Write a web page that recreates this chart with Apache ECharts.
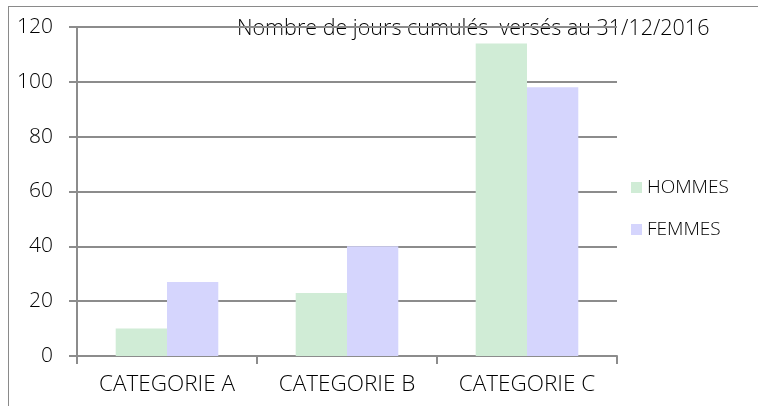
<!DOCTYPE html>
<html>
<head>
<meta charset="utf-8">
<script src="https://cdn.jsdelivr.net/npm/echarts@6/dist/echarts.min.js"></script>
<style>
html,body{margin:0;padding:0;width:758px;height:406px;overflow:hidden;background:#fff;}
#frame{position:absolute;left:8px;top:6px;width:900px;height:600px;border:1px solid #8a8a8a;box-sizing:border-box;}
#chart{position:absolute;left:0;top:0;width:758px;height:406px;}
</style>
</head>
<body>
<div id="frame"></div>
<div id="chart"></div>
<script>
const categories = ['CATEGORIE A', 'CATEGORIE B', 'CATEGORIE C'];
const hommes = [10, 23, 114];
const femmes = [27, 40, 98];
const seriesNames = ['HOMMES', 'FEMMES'];
const titleText = 'Nombre de jours cumulés  versés au 31/12/2016';

const FONT = '"Open Sans", "Noto Sans", sans-serif';
const chart = echarts.init(document.getElementById('chart'), null, {renderer: 'canvas'});
chart.setOption({
  animation: false,
  backgroundColor: 'transparent',
  title: {
    text: titleText,
    left: 237,
    top: 18,
    padding: 0,
    z: -1,
    textStyle: {fontFamily: FONT, fontWeight: 300, fontSize: 21.5, color: '#000'}
  },
  legend: {
    orient: 'vertical',
    left: 626,
    top: 173,
    padding: 5,
    itemWidth: 11,
    itemHeight: 11,
    itemGap: 23,
    icon: 'rect',
    data: seriesNames,
    textStyle: {fontFamily: FONT, fontWeight: 300, fontSize: 19, color: '#000'}
  },
  grid: {left: 77, top: 27, right: 141, bottom: 50, containLabel: false},
  xAxis: {
    type: 'category',
    data: categories,
    axisLine: {show: true, lineStyle: {color: '#8c8c8c', width: 2}},
    axisTick: {show: true, length: 8, lineStyle: {color: '#8c8c8c', width: 2}},
    axisLabel: {interval: 0, hideOverlap: false, margin: 17, fontFamily: FONT, fontWeight: 300, fontSize: 22.5, color: '#000'}
  },
  yAxis: {
    type: 'value',
    min: 0, max: 120, interval: 20,
    axisLine: {show: true, lineStyle: {color: '#8c8c8c', width: 2}},
    axisTick: {show: true, length: 8, lineStyle: {color: '#8c8c8c', width: 2}},
    splitLine: {show: true, lineStyle: {color: '#8c8c8c', width: 2}},
    axisLabel: {margin: 24, fontFamily: FONT, fontWeight: 300, fontSize: 21, color: '#000'}
  },
  series: [
    {name: seriesNames[0], type: 'bar', data: hommes, barGap: '0%', barCategoryGap: '43%',
     itemStyle: {color: '#d0ecd6'}},
    {name: seriesNames[1], type: 'bar', data: femmes, barGap: '0%', barCategoryGap: '43%',
     itemStyle: {color: '#d5d5fd'}}
  ]
});
</script>
</body>
</html>
